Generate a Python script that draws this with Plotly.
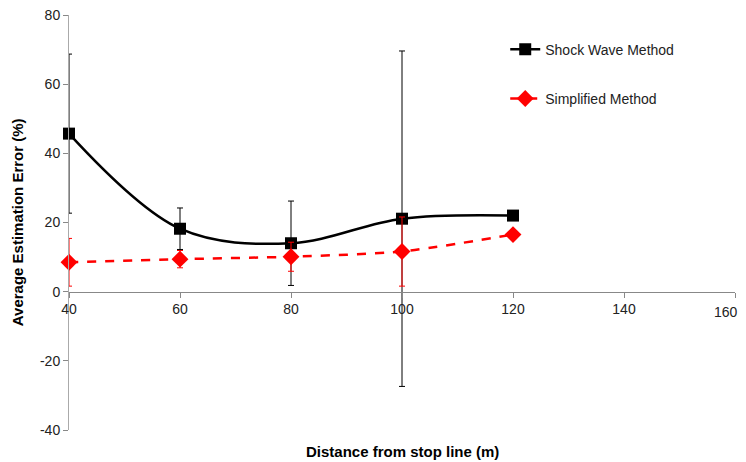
import plotly.graph_objects as go

distance = [40, 60, 80, 100, 120]
shock_values = [45.7, 18.2, 14.0, 21.1, 22.0]
shock_errors = [23.0, 6.0, 12.2, 48.5, 0.0]
simple_values = [8.5, 9.4, 10.1, 11.6, 16.5]
simple_errors = [6.9, 2.5, 4.2, 10.0, 0.0]
x_ticks = [40, 60, 80, 100, 120, 140, 160]
x_tick_labels = ["40", "60", "80", "100", "120", "140", ""]
y_ticks = [-40, -20, 0, 20, 40, 60, 80]
y_tick_labels = ["-40", "-20", "0", "20", "40", "60", "80"]

fig = go.Figure()
fig.add_trace(go.Scatter(
    x=distance, y=shock_values, name="Shock Wave Method", legendgroup="a",
    mode="lines+markers", cliponaxis=False,
    line=dict(color="black", width=2.5, shape="spline", smoothing=1.0),
    marker=dict(symbol="square", size=12, color="black"),
    error_y=dict(type="data", array=shock_errors, color="black", thickness=1, width=3),
))
fig.add_trace(go.Scatter(
    x=distance, y=simple_values, name="Simplified Method", legendgroup="b",
    mode="lines+markers", cliponaxis=False,
    line=dict(color="#ff0000", width=2.5, dash="dash", shape="spline", smoothing=0.6),
    marker=dict(symbol="diamond", size=13, color="#ff0000"),
    error_y=dict(type="data", array=simple_errors, color="#ff0000", thickness=1, width=3),
))

font = "Liberation Sans, Arial, sans-serif"
# page body has an 8px default margin, so the figure is sized to fit the window
fig.update_layout(
    width=738, height=454,
    margin=dict(l=61, r=11, t=7, b=32, autoexpand=False),
    paper_bgcolor="white", plot_bgcolor="white",
    font=dict(family=font, size=14, color="#222"),
    showlegend=True,
    legend=dict(x=0.655, y=0.955, xanchor="left", yanchor="top",
                font=dict(size=14, color="#222"), tracegroupgap=28,
                bgcolor="rgba(0,0,0,0)"),
    xaxis=dict(range=[40, 160], tickvals=x_ticks, ticktext=x_tick_labels,
               showgrid=False, zeroline=False, showline=True, linecolor="#888",
               linewidth=1, ticks="outside", ticklen=5, tickcolor="#888",
               anchor="free", position=1/3, automargin=False,
               ticklabeloverflow="allow",
               tickfont=dict(size=14, color="#222")),
    yaxis=dict(range=[-40, 80], tickvals=y_ticks, ticktext=y_tick_labels,
               showgrid=False, zeroline=False, showline=True, linecolor="#aaa",
               linewidth=1, ticks="outside", ticklen=5, tickcolor="#888",
               automargin=False, ticklabeloverflow="allow",
               tickfont=dict(size=14, color="#222")),
    annotations=[
        dict(text="<b>Distance from stop line (m)</b>", x=0.5, y=-0.053,
             xref="paper", yref="paper", showarrow=False,
             xanchor="center", yanchor="middle",
             font=dict(size=15, color="black")),
        dict(text="<b>Average Estimation Error (%)</b>", x=-0.077, y=0.5,
             xref="paper", yref="paper", showarrow=False, textangle=-90,
             xanchor="center", yanchor="middle",
             font=dict(size=15, color="black")),
        dict(text=str(x_ticks[-1]), x=x_ticks[-1], y=0, xref="x", yref="y",
             showarrow=False, xanchor="right", yanchor="middle",
             xshift=5, yshift=-20, font=dict(size=14, color="#222")),
    ],
)

fig.write_html("out.html")
